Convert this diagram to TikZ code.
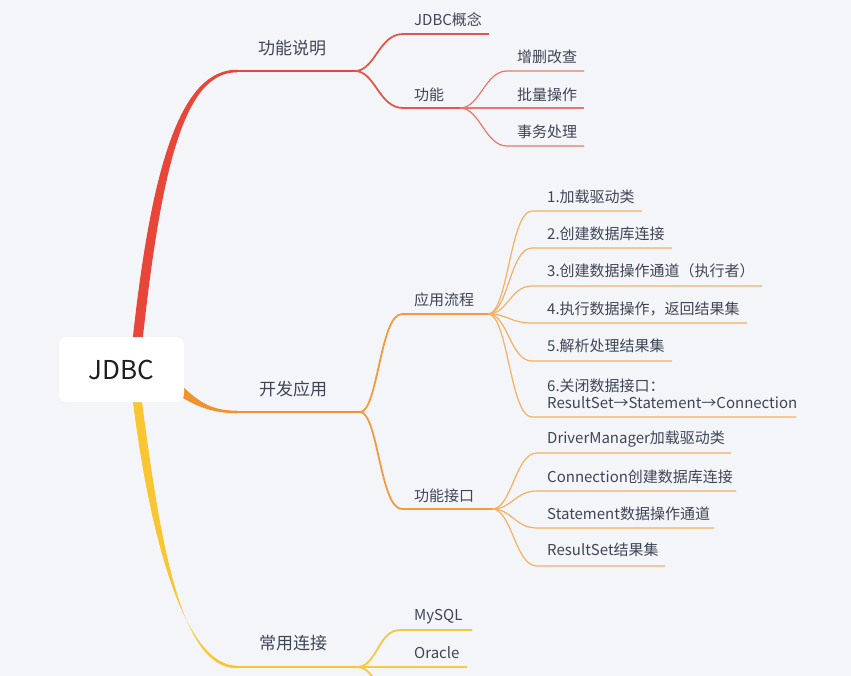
\documentclass[tikz,border=0pt]{standalone}
\usepackage{fontspec}
\setmainfont{Noto Sans CJK SC}
\definecolor{bgc}{RGB}{244,245,249}
\definecolor{textc}{RGB}{62,70,86}
\definecolor{redA}{RGB}{232,70,56}
\definecolor{redB}{RGB}{224,88,76}
\definecolor{redC}{RGB}{232,118,108}
\definecolor{orA}{RGB}{240,146,46}
\definecolor{orB}{RGB}{242,156,62}
\definecolor{orC}{RGB}{245,176,98}
\definecolor{yeA}{RGB}{249,198,50}
\definecolor{yeB}{RGB}{248,200,64}
\begin{document}
\begin{tikzpicture}[x=1pt,y=-1pt,
  lbl/.style={anchor=west, inner sep=0pt, text=textc, font=\fontsize{15}{17}\selectfont, align=left},
  mainlbl/.style={lbl, font=\fontsize{17}{20}\selectfont},
  lone/.style={line width=2.5pt, line cap=round},
  ltwo/.style={line width=1.8pt},
  lthree/.style={line width=1.2pt},
  cv/.style={}]
\clip (0,0) rectangle (851,676);
\fill[bgc] (0,0) rectangle (851,676);

% root (placed first for anchors, redrawn on top later)
\path node[minimum width=125pt, minimum height=65pt, inner sep=0pt] (rootp) at (121.5,369.5) {};

% ---------- coordinates ----------
\coordinate (k1s) at (237,71);  \coordinate (k1b) at (355,71);
\coordinate (k2s) at (237,412); \coordinate (k2b) at (360,412);
\coordinate (k3s) at (237,667); \coordinate (k3b) at (357,667);

% ---------- main tapered branches ----------
\fill[redA] ([xshift=11pt,yshift=-4pt]rootp.north) .. controls (152,160) and (182,69.8) .. ([yshift=1.3pt]k1s)
  -- ([yshift=-1.3pt]k1s) .. controls (186,72.2) and (162,160) .. ([xshift=21pt,yshift=-4pt]rootp.north) -- cycle;
\fill[orA] ([xshift=-4pt,yshift=-14.5pt]rootp.east) .. controls (200,404) and (214,410.7) .. ([yshift=1.3pt]k2s)
  -- ([yshift=-1.3pt]k2s) .. controls (210,413.3) and (192,404) .. ([xshift=-4pt,yshift=-26.5pt]rootp.east) -- cycle;
\fill[yeA] ([xshift=11pt,yshift=4pt]rootp.south) .. controls (150,540) and (185,665.7) .. ([yshift=1.3pt]k3s)
  -- ([yshift=-1.3pt]k3s) .. controls (180,668.3) and (160,540) .. ([xshift=20pt,yshift=4pt]rootp.south) -- cycle;

\draw[lone,redA] (k1s) -- (k1b);
\draw[lone,orA] (k2s) -- (k2b);
\draw[lone,yeA] (k3s) -- (k3b);

\node[mainlbl] (n1) at (258,48) {功能说明};
\node[mainlbl] (n2) at (259,389) {开发应用};
\node[mainlbl] (n3) at (259,643) {常用连接};

% ---------- 功能说明 ----------
\coordinate (a1s) at (403,34);  \coordinate (a1e) at (489,34);
\coordinate (a2s) at (403,108); \coordinate (a2b) at (460,108);
\draw[ltwo,redB] (k1b) .. controls +(20,0) and +(-24,0) .. (a1s) -- (a1e);
\draw[ltwo,redB] (k1b) .. controls +(20,0) and +(-24,0) .. (a2s) -- (a2b);
\node[lbl] (a1) at (414,20) {JDBC概念};
\node[lbl] (a2) at (414,95) {功能};

\coordinate (c1s) at (507,71);  \coordinate (c1e) at (584,71);
\coordinate (c2s) at (507,108); \coordinate (c2e) at (584,108);
\coordinate (c3s) at (507,146); \coordinate (c3e) at (584,146);
\draw[lthree,redC] (a2b) .. controls +(20,0) and +(-22,0) .. (c1s) -- (c1e);
\draw[lthree,redC] (a2b) -- (c2s) -- (c2e);
\draw[lthree,redC] (a2b) .. controls +(20,0) and +(-22,0) .. (c3s) -- (c3e);
\node[lbl] (c1) at (517,57) {增删改查};
\node[lbl] (c2) at (517,95) {批量操作};
\node[lbl] (c3) at (517,132) {事务处理};

% ---------- 开发应用 ----------
\coordinate (b1s) at (402,314); \coordinate (b1b) at (488,314);
\coordinate (b2s) at (402,509); \coordinate (b2b) at (492,509);
\draw[ltwo,orB] (k2b) .. controls +(18,0) and +(-22,0) .. (b1s) -- (b1b);
\draw[ltwo,orB] (k2b) .. controls +(18,0) and +(-22,0) .. (b2s) -- (b2b);
\node[lbl] (b1) at (414,300) {应用流程};
\node[lbl] (b2) at (414,496) {功能接口};

\coordinate (p1s) at (532,211); \coordinate (p1e) at (642,211);
\coordinate (p2s) at (532,248); \coordinate (p2e) at (672,248);
\coordinate (p3s) at (532,286); \coordinate (p3e) at (762,286);
\coordinate (p4s) at (532,323); \coordinate (p4e) at (747,323);
\coordinate (p5s) at (532,361); \coordinate (p5e) at (672,361);
\coordinate (p6s) at (532,417); \coordinate (p6e) at (796,417);
\foreach \i in {1,...,6}{
  \draw[lthree,orC] (b1b) .. controls +(20,0) and +(-22,0) .. (p\i s) -- (p\i e);
}
\node[lbl] (p1) at (547,197) {1.加载驱动类};
\node[lbl] (p2) at (547,234) {2.创建数据库连接};
\node[lbl] (p3) at (547,271) {3.创建数据操作通道（执行者）};
\node[lbl] (p4) at (547,309) {4.执行数据操作，返回结果集};
\node[lbl] (p5) at (547,346) {5.解析处理结果集};
\node[lbl] (p6) at (547,393.5) {6.关闭数据接口：\\ResultSet→Statement→Connection};

\coordinate (q1s) at (537,453); \coordinate (q1e) at (731,453);
\coordinate (q2s) at (537,491); \coordinate (q2e) at (736,491);
\coordinate (q3s) at (537,528); \coordinate (q3e) at (714,528);
\coordinate (q4s) at (537,566); \coordinate (q4e) at (665,566);
\foreach \i in {1,...,4}{
  \draw[lthree,orC] (b2b) .. controls +(20,0) and +(-22,0) .. (q\i s) -- (q\i e);
}
\node[lbl] (q1) at (547,439) {DriverManager加载驱动类};
\node[lbl] (q2) at (547,477) {Connection创建数据库连接};
\node[lbl] (q3) at (547,514) {Statement数据操作通道};
\node[lbl] (q4) at (547,550) {ResultSet结果集};

% ---------- 常用连接 ----------
\coordinate (m1s) at (400,630); \coordinate (m1e) at (472,630);
\coordinate (m2s) at (400,667); \coordinate (m2e) at (467,667);
\coordinate (m3s) at (400,704); \coordinate (m3e) at (470,704);
\draw[ltwo,yeB] (k3b) .. controls +(20,0) and +(-22,0) .. (m1s) -- (m1e);
\draw[ltwo,yeB] (k3b) -- (m2s) -- (m2e);
\draw[ltwo,yeB] (k3b) .. controls +(20,0) and +(-22,0) .. (m3s) -- (m3e);
\node[lbl] (m1) at (414,617) {MySQL};
\node[lbl] (m2) at (414,653) {Oracle};

% ---------- root ----------
\node[fill=white, rounded corners=8pt, minimum width=125pt, minimum height=65pt, inner sep=0pt,
      font=\fontsize{26}{30}\selectfont, text=black!88] (root) at (rootp) {JDBC};
\end{tikzpicture}
\end{document}
